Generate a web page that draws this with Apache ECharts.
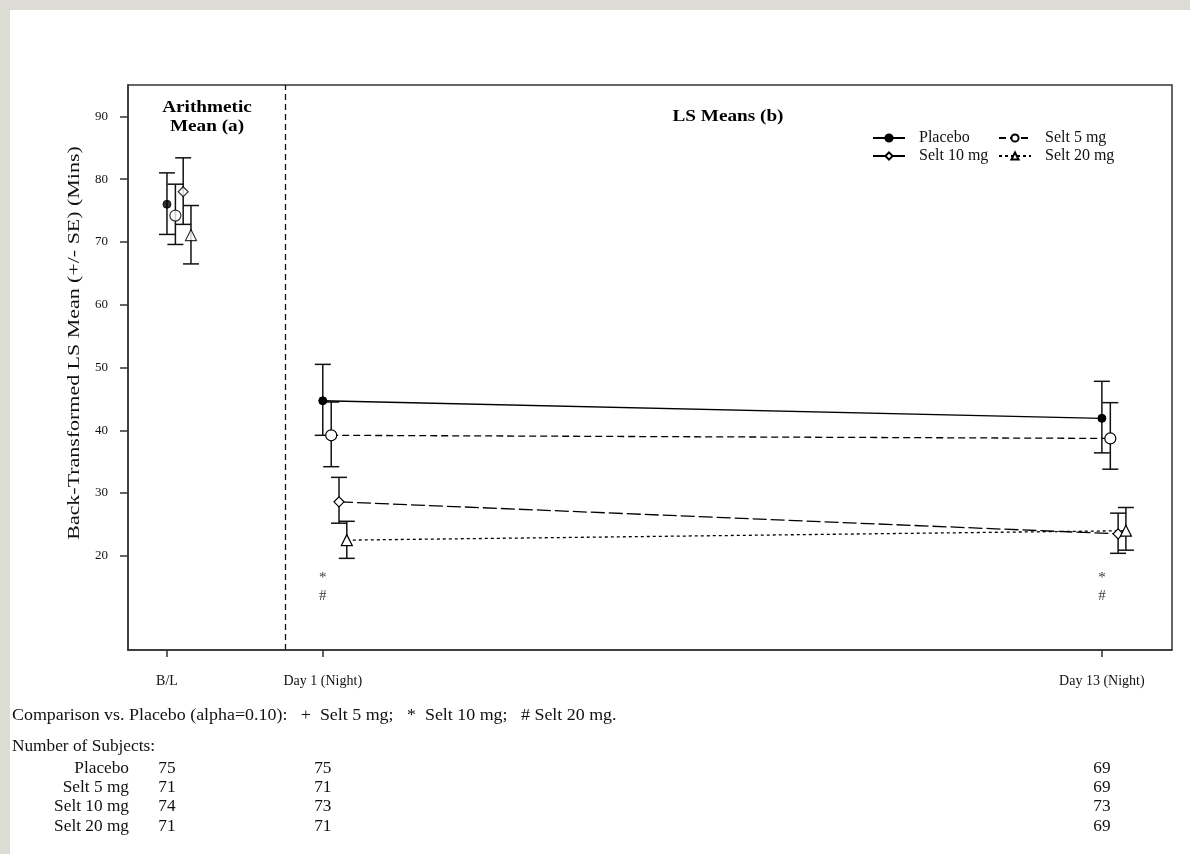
<!DOCTYPE html>
<html>
<head>
<meta charset="utf-8">
<script src="https://cdn.jsdelivr.net/npm/echarts@6/dist/echarts.min.js"></script>
<style>
  html, body { margin: 0; padding: 0; background: #fff; }
  #main { width: 1190px; height: 854px; }
</style>
</head>
<body>
<div id="main"></div>
<script>
// visits along the x axis (value axis, day-ish units)
const visitLabels = ["B/L", "Day 1 (Night)", "Day 13 (Night)"]
const visitX = [-1.4, 1, 13]
const separatorX = 0.425

const groups = ["Placebo", "Selt 5 mg", "Selt 10 mg", "Selt 20 mg"]
const dodge = [0, 0.13, 0.25, 0.37]

// back-transformed means and +/- SE limits, per visit
const placeboMean = [76.0, 44.7, 41.9]
const placeboLow = [71.2, 39.2, 36.4]
const placeboHigh = [81.0, 50.5, 47.8]

const selt5Mean = [74.2, 39.2, 38.7]
const selt5Low = [69.6, 34.2, 33.8]
const selt5High = [79.2, 44.5, 44.4]

const selt10Mean = [78.0, 28.6, 23.5]
const selt10Low = [72.8, 25.2, 20.4]
const selt10High = [83.4, 32.5, 26.8]

const selt20Mean = [71.1, 22.5, 24.0]
const selt20Low = [66.5, 19.6, 20.9]
const selt20High = [75.8, 25.5, 27.7]

// significance marks (* Selt 10 mg, # Selt 20 mg) shown under each visit
const sigVisits = [1, 2]
const sigMarks = ["*", "#"]
const sigRowY = [16.4, 13.6]

// number of subjects per visit
const nPlacebo = [75, 75, 69]
const nSelt5 = [71, 71, 69]
const nSelt10 = [74, 73, 73]
const nSelt20 = [71, 71, 69]

const yTicks = [20, 30, 40, 50, 60, 70, 80, 90]

const means = [placeboMean, selt5Mean, selt10Mean, selt20Mean]
const lows = [placeboLow, selt5Low, selt10Low, selt20Low]
const highs = [placeboHigh, selt5High, selt10High, selt20High]
const counts = [nPlacebo, nSelt5, nSelt10, nSelt20]

const serif = "Liberation Serif"
const symbols = ["circle", "circle", "diamond", "triangle"]
const symbolSizes = [8, 11, 10, 11]
const dashes = ["solid", [7, 4], [14, 4], [3, 3]]

var chart = echarts.init(document.getElementById("main"), null, { renderer: "canvas" })

function errorBar(params, api) {
  var x = api.value(0)
  var lo = api.coord([x, api.value(1)])
  var hi = api.coord([x, api.value(2)])
  var half = 8
  var style = { stroke: "#111", lineWidth: 1.5 }
  return {
    type: "group",
    children: [
      { type: "line", shape: { x1: lo[0], y1: lo[1], x2: hi[0], y2: hi[1] }, style: style },
      { type: "line", shape: { x1: lo[0] - half, y1: lo[1], x2: lo[0] + half, y2: lo[1] }, style: style },
      { type: "line", shape: { x1: hi[0] - half, y1: hi[1], x2: hi[0] + half, y2: hi[1] }, style: style },
    ],
  }
}

var series = []
groups.forEach((g, gi) => {
  var itemStyle = gi === 0
    ? { color: "#000", borderColor: "#000", borderWidth: 1 }
    : { color: "#fff", borderColor: "#000", borderWidth: 1.2 }
  // LS means: Day 1 -> Day 13
  series.push({
    name: g,
    type: "line",
    z: 4,
    data: [1, 2].map((v) => [visitX[v] + dodge[gi], means[gi][v]]),
    symbol: symbols[gi],
    symbolSize: symbolSizes[gi],
    showSymbol: true,
    itemStyle: itemStyle,
    lineStyle: { color: "#000", width: 1.3, type: dashes[gi] },
    animation: false,
  })
  // arithmetic mean at baseline
  series.push({
    name: g,
    type: "scatter",
    z: 4,
    data: [[visitX[0] + dodge[gi], means[gi][0]]],
    symbol: symbols[gi],
    symbolSize: symbolSizes[gi],
    itemStyle: itemStyle,
    animation: false,
  })
  // +/- SE
  series.push({
    name: g + " SE",
    type: "custom",
    z: 2,
    renderItem: errorBar,
    data: [0, 1, 2].map((v) => [visitX[v] + dodge[gi], lows[gi][v], highs[gi][v]]),
    animation: false,
  })
})

var sigData = []
sigVisits.forEach((v) => {
  sigMarks.forEach((m, mi) => sigData.push([visitX[v], sigRowY[mi], m]))
})
series.push({
  name: "sig",
  type: "scatter",
  symbolSize: 0,
  data: sigData,
  label: {
    show: true,
    position: "inside",
    formatter: (p) => p.value[2],
    fontFamily: serif,
    fontSize: 15,
    color: "#000",
  },
  markLine: {
    silent: true,
    symbol: "none",
    label: { show: false },
    lineStyle: { color: "#111", type: [6, 4], width: 1.3 },
    data: [{ xAxis: separatorX }],
    animation: false,
  },
  animation: false,
})

var legendText = { fontFamily: serif, fontSize: 16, color: "#111", padding: [0, 0, 0, 9] }

var option = {
  animation: false,
  backgroundColor: "#fff",
  grid: {
    left: 128,
    right: 18,
    top: 85,
    bottom: 204,
    show: true,
    borderColor: "#333",
    borderWidth: 1.5,
    outerBoundsMode: "none",
  },
  legend: [
    {
      data: ["Placebo", "Selt 10 mg"],
      orient: "vertical",
      left: 872,
      top: 130,
      itemWidth: 32,
      itemHeight: 9,
      itemGap: 2,
      padding: 0,
      selectedMode: false,
      textStyle: legendText,
    },
    {
      data: ["Selt 5 mg", "Selt 20 mg"],
      orient: "vertical",
      left: 998,
      top: 130,
      itemWidth: 32,
      itemHeight: 9,
      itemGap: 2,
      padding: 0,
      selectedMode: false,
      textStyle: legendText,
    },
  ],
  xAxis: {
    type: "value",
    min: -2,
    max: 14.08,
    splitLine: { show: false },
    axisLine: { show: true, onZero: false, lineStyle: { color: "#333", width: 1.5 } },
    axisTick: { show: true, customValues: visitX, length: 7, lineStyle: { color: "#333", width: 1.5 } },
    axisLabel: {
      customValues: visitX,
      margin: 24,
      fontFamily: serif,
      fontSize: 14,
      color: "#111",
      formatter: (val) => {
        var i = visitX.findIndex((x) => Math.abs(x - val) < 1e-6)
        return i >= 0 ? visitLabels[i] : ""
      },
    },
  },
  yAxis: {
    type: "value",
    min: 5,
    max: 95,
    splitLine: { show: false },
    axisLine: { show: true, onZero: false, lineStyle: { color: "#333", width: 1.5 } },
    axisTick: { show: true, customValues: yTicks, length: 8, lineStyle: { color: "#333", width: 1.5 } },
    axisLabel: { customValues: yTicks, margin: 20, fontFamily: serif, fontSize: 13, color: "#111" },
  },
  series: series,
}

chart.setOption(option)

// text outside the plot; the subject counts are placed on the visit ticks
var txt = (x, y, text, extra, sx) => ({
  type: "text",
  x: x,
  y: y,
  scaleX: sx || 1.08,
  style: Object.assign({ text: text, fontFamily: serif, fontSize: 16, fill: "#111", textVerticalAlign: "middle" }, extra || {}),
})

var bold = { textAlign: "center", fontWeight: "bold", fontSize: 17, fill: "#000" }

var graphics = [
  { type: "rect", shape: { x: 0, y: 0, width: 1190, height: 10 }, style: { fill: "#dddcd4" }, z: -10 },
  { type: "rect", shape: { x: 0, y: 0, width: 10, height: 854 }, style: { fill: "#dddcd4" }, z: -10 },
  txt(207, 108, "Arithmetic", bold, 1.13),
  txt(207, 127, "Mean (a)", bold, 1.13),
  txt(728, 117, "LS Means (b)", bold, 1.13),
  {
    type: "text",
    x: 75,
    y: 343,
    rotation: Math.PI / 2,
    scaleX: 1.29,
    style: {
      text: "Back-Transformed LS Mean (+/- SE) (Mins)",
      fontFamily: serif,
      fontSize: 17,
      fill: "#111",
      textAlign: "center",
      textVerticalAlign: "middle",
    },
  },
  txt(12, 716, "Comparison vs. Placebo (alpha=0.10):   +  Selt 5 mg;   *  Selt 10 mg;   # Selt 20 mg.", null, 1.12),
  txt(12, 747, "Number of Subjects:"),
]

groups.forEach((g, gi) => {
  var y = [769, 788, 807, 827][gi]
  graphics.push(txt(129, y, g, { textAlign: "right" }))
  visitX.forEach((x, vi) => {
    var px = chart.convertToPixel({ xAxisIndex: 0 }, x)
    graphics.push(txt(px, y, String(counts[gi][vi]), { textAlign: "center" }))
  })
})

chart.setOption({ graphic: graphics })

window.addEventListener("resize", () => {
  chart.resize()
})
</script>
</body>
</html>
